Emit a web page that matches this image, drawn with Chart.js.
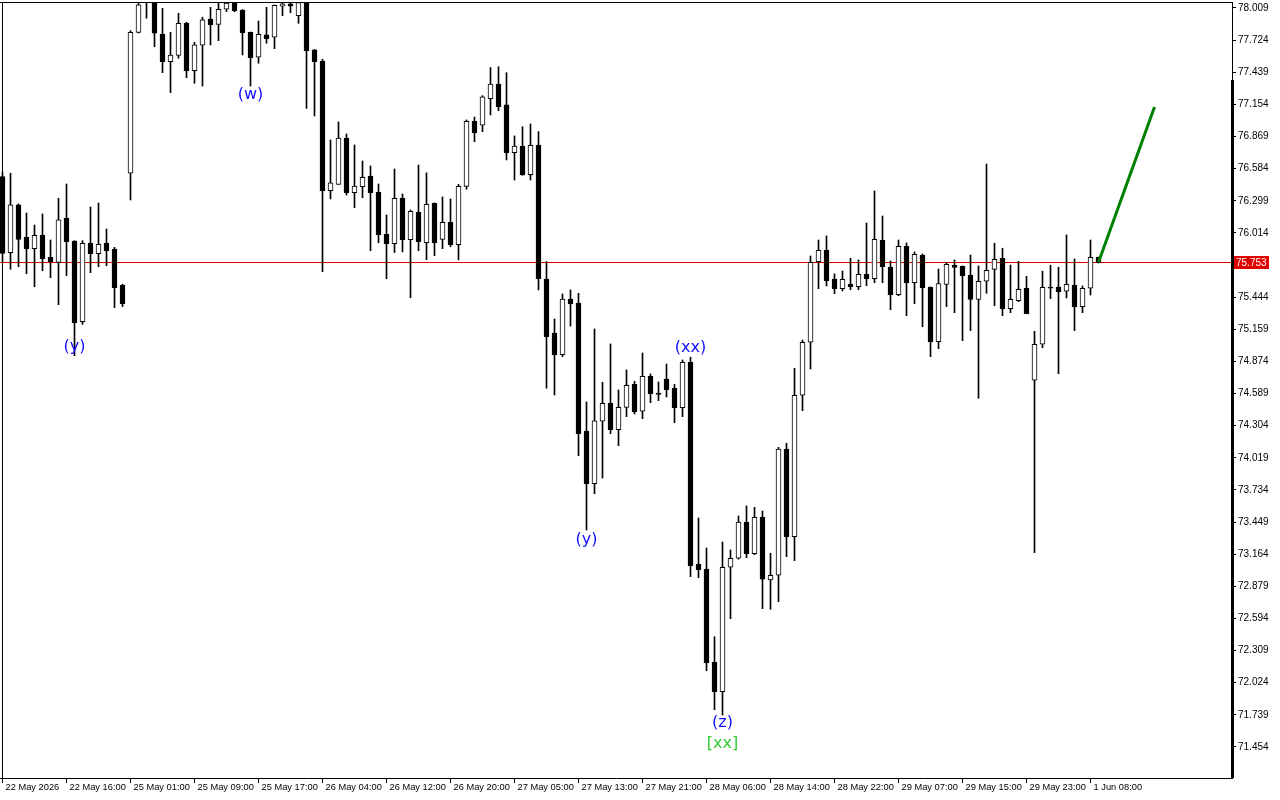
<!DOCTYPE html>
<html>
<head>
<meta charset="utf-8">
<title>H1 candles</title>
<script src="https://cdn.jsdelivr.net/npm/chart.js@4.4.1/dist/chart.umd.min.js"></script>
<style>
  html, body { margin: 0; padding: 0; background: #fff; }
  #wrap { width: 1280px; height: 800px; position: relative; }
</style>
</head>
<body>
<div id="wrap"><canvas id="chart"></canvas></div>
<script>
// hourly candles, 22 May 2026 .. 1 Jun 08:00
const opens = [
  76.513, 75.839, 76.262, 75.975, 75.874, 75.993, 75.798, 75.753, 76.144, 75.942,
  75.227, 75.922, 75.830, 75.922, 75.871, 75.549, 76.543, 77.793, 78.100, 78.110,
  77.778, 77.533, 77.589, 77.873, 77.453, 77.678, 77.911, 77.864, 77.998, 78.056,
  77.991, 77.793, 77.572, 77.770, 77.749, 78.024, 78.045, 77.941, 78.100, 77.637,
  77.539, 76.388, 76.445, 76.856, 76.371, 76.424, 76.519, 76.374, 76.002, 75.918,
  76.321, 75.954, 76.197, 75.927, 76.277, 75.957, 76.108, 75.909, 76.426, 77.004,
  76.969, 77.205, 77.335, 77.149, 76.726, 76.785, 76.530, 76.794, 75.605, 75.126,
  74.934, 75.428, 75.392, 74.257, 73.790, 74.343, 74.503, 74.269, 74.467, 74.671,
  74.432, 74.742, 74.594, 74.718, 74.636, 74.464, 74.866, 73.075, 73.033, 72.208,
  71.945, 73.048, 73.128, 73.450, 73.169, 73.492, 72.935, 72.977, 74.097, 73.319,
  74.574, 75.044, 75.759, 75.860, 75.605, 75.519, 75.558, 75.537, 75.647, 75.608,
  75.949, 75.709, 75.466, 75.895, 75.572, 75.815, 75.532, 75.049, 75.558, 75.727,
  75.718, 75.638, 75.425, 75.585, 75.691, 75.789, 75.342, 75.413, 75.523, 74.707,
  75.026, 75.534, 75.534, 75.496, 75.549, 75.360, 75.523, 75.798
];
const highs = [
  76.554, 76.543, 76.271, 76.191, 76.084, 76.182, 75.951, 76.321, 76.448, 75.945,
  75.945, 76.244, 76.279, 76.049, 75.886, 75.558, 77.808, 78.070, 78.200, 78.140,
  78.006, 77.793, 77.962, 77.882, 77.705, 77.927, 78.015, 78.056, 78.090, 78.090,
  77.995, 77.796, 77.894, 78.015, 78.036, 78.065, 78.085, 78.090, 78.120, 77.640,
  77.554, 76.838, 76.998, 76.891, 76.794, 76.652, 76.608, 76.448, 76.173, 76.581,
  76.359, 76.217, 76.616, 76.546, 76.280, 76.333, 76.315, 76.445, 77.016, 77.042,
  77.231, 77.480, 77.488, 77.435, 76.874, 76.956, 76.980, 76.912, 75.759, 75.250,
  75.472, 75.508, 75.478, 74.514, 75.162, 74.689, 75.029, 74.621, 74.798, 74.698,
  74.949, 74.763, 74.692, 74.851, 74.671, 74.887, 74.911, 73.485, 73.219, 72.432,
  73.272, 73.202, 73.503, 73.592, 73.580, 73.547, 73.172, 74.112, 74.148, 74.813,
  75.064, 75.809, 75.951, 75.987, 75.650, 75.676, 75.789, 75.774, 76.102, 76.386,
  76.164, 75.765, 75.951, 75.925, 75.845, 75.827, 75.535, 75.694, 75.750, 75.774,
  75.721, 75.818, 75.721, 76.625, 75.922, 75.878, 75.729, 75.762, 75.629, 75.141,
  75.674, 75.727, 75.709, 75.996, 75.783, 75.543, 75.951, 75.800
];
const lows = [
  75.756, 75.691, 75.714, 75.652, 75.537, 75.679, 75.617, 75.377, 75.635, 74.925,
  75.203, 75.661, 75.714, 75.723, 75.351, 75.360, 76.306, 77.787, 77.918, 77.666,
  77.435, 77.258, 77.563, 77.391, 77.341, 77.317, 77.681, 77.719, 77.976, 77.976,
  77.592, 77.317, 77.519, 77.696, 77.648, 77.941, 77.967, 77.873, 77.119, 77.051,
  75.670, 76.315, 76.445, 76.350, 76.238, 76.326, 75.856, 75.927, 75.608, 75.839,
  75.845, 75.439, 75.856, 75.776, 75.812, 75.874, 75.892, 75.774, 76.401, 76.823,
  76.912, 77.060, 77.098, 76.661, 76.483, 76.525, 76.483, 75.508, 74.636, 74.576,
  74.916, 75.188, 74.038, 73.379, 73.701, 73.840, 74.233, 74.127, 74.384, 74.408,
  74.366, 74.508, 74.526, 74.559, 74.331, 74.384, 72.965, 72.956, 72.131, 71.785,
  71.738, 72.592, 73.120, 73.133, 73.160, 72.681, 72.675, 72.743, 73.142, 73.107,
  74.437, 74.807, 75.519, 75.543, 75.475, 75.499, 75.510, 75.510, 75.546, 75.572,
  75.572, 75.333, 75.457, 75.280, 75.386, 75.182, 74.916, 74.987, 75.360, 75.306,
  75.058, 75.147, 74.547, 75.478, 75.368, 75.280, 75.306, 75.404, 75.297, 73.178,
  74.996, 75.431, 74.765, 75.437, 75.147, 75.306, 75.463, 75.747
];
const closes = [
  75.833, 76.262, 75.957, 75.874, 75.993, 75.785, 75.756, 76.129, 75.936, 75.218,
  75.922, 75.830, 75.913, 75.856, 75.528, 75.386, 77.793, 78.036, 78.150, 77.785,
  77.533, 77.592, 77.873, 77.453, 77.681, 77.903, 77.861, 77.998, 78.053, 77.985,
  77.790, 77.568, 77.776, 77.737, 78.033, 78.045, 78.024, 78.056, 77.630, 77.533,
  76.388, 76.457, 76.856, 76.371, 76.430, 76.507, 76.371, 75.998, 75.918, 76.321,
  75.954, 76.206, 75.936, 76.268, 75.927, 76.108, 75.909, 76.428, 77.004, 76.903,
  77.220, 77.335, 77.134, 76.726, 76.785, 76.528, 76.791, 75.608, 75.093, 74.934,
  75.428, 75.384, 74.233, 73.790, 74.346, 74.503, 74.269, 74.467, 74.662, 74.428,
  74.742, 74.588, 74.581, 74.623, 74.464, 74.866, 73.062, 73.027, 72.202, 71.945,
  73.048, 73.128, 73.450, 73.169, 73.492, 72.942, 72.977, 74.097, 73.319, 74.574,
  75.044, 75.753, 75.860, 75.590, 75.519, 75.603, 75.537, 75.647, 75.608, 75.957,
  75.714, 75.466, 75.895, 75.572, 75.824, 75.528, 75.046, 75.564, 75.736, 75.707,
  75.635, 75.425, 75.585, 75.682, 75.780, 75.342, 75.425, 75.514, 75.297, 75.026,
  75.532, 75.523, 75.493, 75.558, 75.360, 75.523, 75.798, 75.753
];

// one time label every 8 bars
const timeLabels = [
  '22 May 2026', '22 May 16:00', '25 May 01:00', '25 May 09:00', '25 May 17:00',
  '26 May 04:00', '26 May 12:00', '26 May 20:00', '27 May 05:00', '27 May 13:00',
  '27 May 21:00', '28 May 06:00', '28 May 14:00', '28 May 22:00', '29 May 07:00',
  '29 May 15:00', '29 May 23:00', '1 Jun 08:00'
];
const priceTicks = [
  78.009, 77.724, 77.439, 77.154, 76.869, 76.584, 76.299, 76.014, 75.729, 75.444,
  75.159, 74.874, 74.589, 74.304, 74.019, 73.734, 73.449, 73.164, 72.879, 72.594,
  72.309, 72.024, 71.739, 71.454
];
const currentPrice = 75.753;

// projection arrow (bar index, price)
const trendX = [137, 144];
const trendY = [75.753, 77.131];

// wave marks: bar index, text, anchored on low or high
const waveMarks = [
  { i: 9,  text: '(y)',  at: 'low',  dy: -9,  color: '#1010ff' },
  { i: 31, text: '(w)',  at: 'low',  dy: 9,   color: '#1010ff' },
  { i: 73, text: '(y)',  at: 'low',  dy: 10,  color: '#1010ff' },
  { i: 86, text: '(xx)', at: 'high', dy: -9,  color: '#1010ff' },
  { i: 90, text: '(z)',  at: 'low',  dy: 8,   color: '#1010ff' },
  { i: 90, text: '[xx]', at: 'low',  dy: 29,  color: '#33cc33' }
];

const bodyData = opens.map((o, i) => ({ x: i, y: [o, closes[i]] }));
const wickData = lows.map((l, i) => ({ x: i, y: [l, highs[i]] }));
const bodyFill = opens.map((o, i) => closes[i] > o ? '#ffffff' : '#000000');
const trendData = trendX.map((x, k) => ({ x: x, y: trendY[k] }));

const axisFont = { family: 'Liberation Sans', size: 10 };

const overlay = {
  id: 'overlay',
  beforeDatasetsDraw(chart) {
    const { ctx, chartArea: a, scales: { y } } = chart;
    const py = Math.round(y.getPixelForValue(currentPrice)) + 0.5;
    ctx.save();
    ctx.strokeStyle = '#e00000';
    ctx.lineWidth = 1;
    ctx.beginPath();
    ctx.moveTo(a.left, py);
    ctx.lineTo(a.right, py);
    ctx.stroke();
    ctx.restore();
  },
  afterDatasetsDraw(chart) {
    const { ctx, scales: { x, y } } = chart;
    ctx.save();
    ctx.font = '16px "DejaVu Sans"';
    ctx.textAlign = 'center';
    ctx.textBaseline = 'middle';
    waveMarks.forEach(m => {
      const v = m.at === 'low' ? lows[m.i] : highs[m.i];
      ctx.fillStyle = m.color;
      ctx.fillText(m.text, x.getPixelForValue(m.i), y.getPixelForValue(v) + m.dy);
    });
    ctx.restore();
  },
  afterDraw(chart) {
    const { ctx, chartArea: a, scales: { y } } = chart;
    ctx.save();
    // frame
    ctx.strokeStyle = '#000';
    ctx.lineWidth = 1;
    ctx.beginPath();
    ctx.moveTo(a.left, a.top + 0.5);
    ctx.lineTo(a.right, a.top + 0.5);
    ctx.moveTo(a.left + 2.5, a.top);
    ctx.lineTo(a.left + 2.5, a.bottom);
    ctx.stroke();
    ctx.fillStyle = '#000';
    ctx.fillRect(a.right - 1, 80, 3, a.bottom - 80);
    // current price tag
    const py = Math.round(y.getPixelForValue(currentPrice));
    ctx.fillStyle = '#e00000';
    ctx.fillRect(a.right + 2, py - 6, 35, 13);
    ctx.fillStyle = '#fff';
    ctx.font = '10px "Liberation Sans"';
    ctx.textAlign = 'left';
    ctx.textBaseline = 'middle';
    ctx.fillText(currentPrice.toFixed(3), a.right + 4, py + 1);
    ctx.restore();
  }
};

new Chart(document.getElementById('chart'), {
  type: 'bar',
  data: {
    datasets: [
      {
        type: 'line',
        data: trendData,
        borderColor: '#008000',
        borderWidth: 3,
        pointRadius: 0,
        order: 0
      },
      {
        data: bodyData,
        backgroundColor: bodyFill,
        borderColor: '#000',
        borderWidth: 1,
        borderSkipped: false,
        barThickness: 5,
        grouped: false,
        order: 1
      },
      {
        data: wickData,
        backgroundColor: '#000',
        borderWidth: 0,
        barThickness: 1,
        grouped: false,
        order: 2
      }
    ]
  },
  options: {
    responsive: true,
    maintainAspectRatio: false,
    animation: false,
    devicePixelRatio: 1,
    layout: { padding: { top: 2, left: 0, right: 0, bottom: 0 } },
    plugins: { legend: { display: false }, tooltip: { enabled: false } },
    scales: {
      x: {
        type: 'linear',
        offset: false,
        min: -0.3125,
        max: 153.6875,
        afterBuildTicks: s => { s.ticks = timeLabels.map((_, k) => ({ value: k * 8 })); },
        afterFit: s => { s.height = 22; s.paddingLeft = 0; s.paddingRight = 0; },
        grid: { offset: false, drawOnChartArea: false, tickLength: 5, color: '#000' },
        border: { display: true, color: '#000' },
        ticks: {
          color: '#000', font: { family: 'Liberation Sans', size: 9.3 },
          autoSkip: false, maxRotation: 0, minRotation: 0,
          align: 'start', labelOffset: 3, padding: -1,
          callback: v => timeLabels[Math.round(v / 8)]
        }
      },
      y: {
        type: 'linear',
        position: 'right',
        min: 71.179,
        max: 78.062,
        afterBuildTicks: s => { s.ticks = priceTicks.map(v => ({ value: v })); },
        afterFit: s => { s.width = 48; s.paddingTop = 0; s.paddingBottom = 0; },
        grid: { drawOnChartArea: false, tickLength: 4, color: '#000' },
        border: { display: true, color: '#000' },
        ticks: { color: '#000', font: axisFont, padding: 2, callback: v => v.toFixed(3) }
      }
    }
  },
  plugins: [overlay]
});
</script>
</body>
</html>
